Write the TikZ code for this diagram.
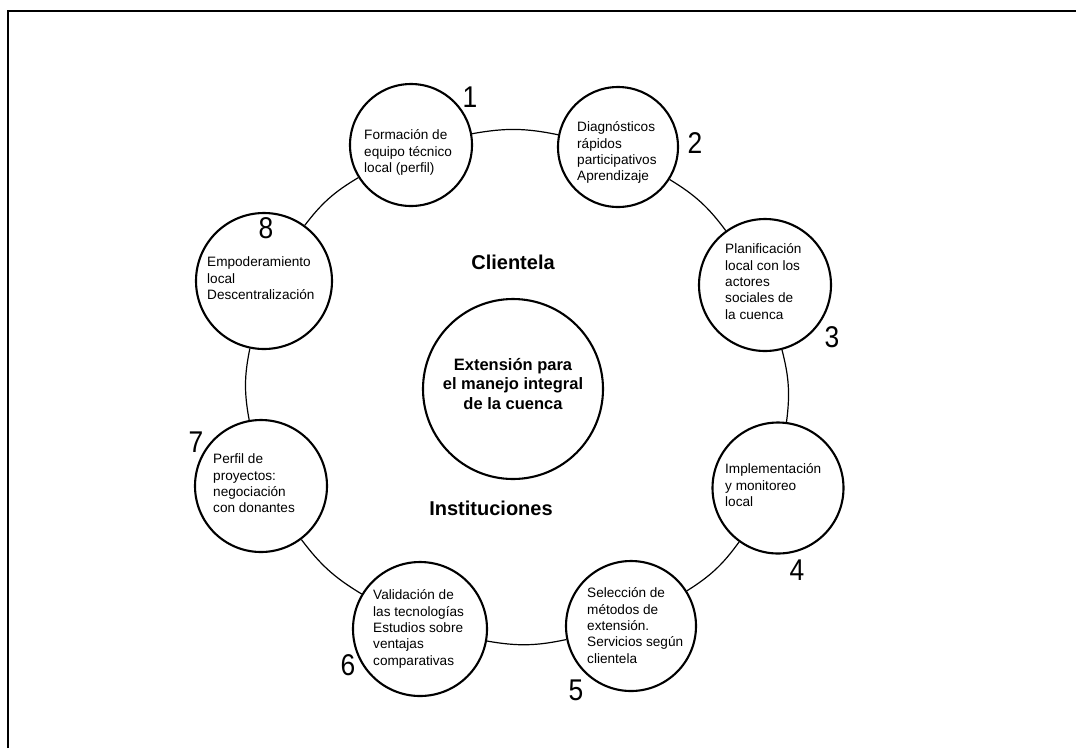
\documentclass[tikz,border=0pt]{standalone}
\usepackage{fontspec}
\setmainfont{Liberation Sans}
\begin{document}
\begin{tikzpicture}[x=1pt,y=1pt,
  stage/.style={circle,draw,line width=2.1pt,fill=white,inner sep=0pt,minimum size=#1},
  hubcircle/.style={circle,draw,line width=2.1pt,fill=white,inner sep=0pt,minimum size=180pt},
  ring/.style={line width=1.2pt,bend left=11},
  frameline/.style={line width=1.6pt},
  stagetext/.style={anchor=north west,inner sep=0pt,align=left,font=\fontsize{13.6}{16.3}\selectfont},
  hubtext/.style={inner sep=0pt,align=center,font=\fontsize{16.5}{19.5}\selectfont\bfseries},
  sidetext/.style={inner sep=0pt,font=\fontsize{20}{24}\selectfont\bfseries},
  num/.style={inner sep=0pt,font=\fontsize{30}{30}\selectfont}]
\useasboundingbox (0,0) rectangle (1076,-748);
\newcommand{\fl}{\rule{0pt}{11pt}}
\newcommand{\digit}[1]{\scalebox{0.88}[1]{#1}}

% outer frame (top and left edges)
\draw[frameline] (8,-748) -- (8,-11) -- (1076,-11);

% stages of the cycle
\node[stage=122pt] (s1) at (411,-145) {};
\node[stage=120pt] (s2) at (618,-147) {};
\node[stage=132pt] (s3) at (765,-285) {};
\node[stage=131pt] (s4) at (778,-488) {};
\node[stage=130pt] (s5) at (631,-626) {};
\node[stage=134pt] (s6) at (420,-629) {};
\node[stage=132pt] (s7) at (261,-486) {};
\node[stage=136pt] (s8) at (264,-281) {};

% central topic
\node[hubcircle] (hub) at (513,-389) {};
\node[hubtext] (hubt) at (513,-384) {Extensión para\\el manejo integral\\de la cuenca};

% ring joining the stages
\draw[ring] (s1) to (s2);
\draw[ring] (s2) to (s3);
\draw[ring] (s3) to (s4);
\draw[ring] (s4) to (s5);
\draw[ring] (s5) to (s6);
\draw[ring] (s6) to (s7);
\draw[ring] (s7) to (s8);
\draw[ring] (s8) to (s1);

% stage texts
\node[stagetext] (t1) at (364,-128.6) {\fl Formación de\\equipo técnico\\local (perfil)};
\node[stagetext] (t2) at (577,-120.6) {\fl Diagnósticos\\rápidos\\participativos\\Aprendizaje};
\node[stagetext] (t3) at (725,-242.6) {\fl Planificación\\local con los\\actores\\sociales de\\la cuenca};
\node[stagetext] (t4) at (725,-462.6) {\fl Implementación\\y monitoreo\\local};
\node[stagetext] (t5) at (587,-586.6) {\fl Selección de\\métodos de\\extensión.\\Servicios según\\clientela};
\node[stagetext] (t6) at (373,-588.6) {\fl Validación de\\las tecnologías\\Estudios sobre\\ventajas\\comparativas};
\node[stagetext] (t7) at (213,-452.6) {\fl Perfil de\\proyectos:\\negociación\\con donantes};
\node[stagetext] (t8) at (207,-255.6) {\fl Empoderamiento\\local\\Descentralización};

% side labels
\node[sidetext] (cli) at (513,-262) {Clientela};
\node[sidetext] (ins) at (491,-508) {Instituciones};

% stage numbers
\node[num] (n1) at (470,-97) {\digit{1}};
\node[num] (n2) at (695,-143) {\digit{2}};
\node[num] (n3) at (832,-337) {\digit{3}};
\node[num] (n4) at (797,-570) {\digit{4}};
\node[num] (n5) at (576,-690) {\digit{5}};
\node[num] (n6) at (348,-665) {\digit{6}};
\node[num] (n7) at (196,-442) {\digit{7}};
\node[num] (n8) at (266,-228) {\digit{8}};
\end{tikzpicture}
\end{document}
